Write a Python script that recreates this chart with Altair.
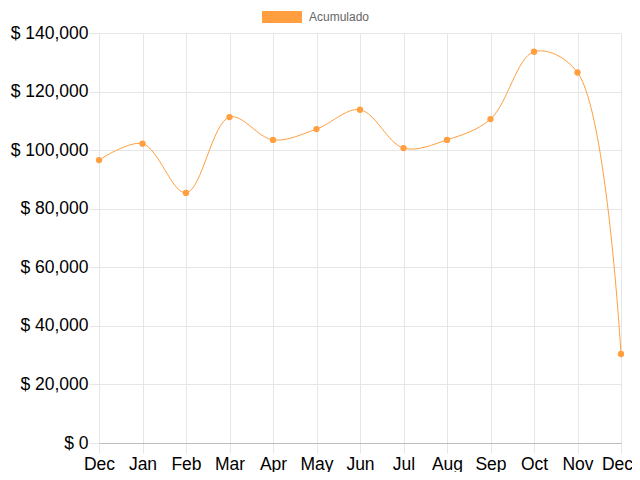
import altair as alt
import pandas as pd

months = ["Dec", "Jan", "Feb", "Mar", "Apr", "May", "Jun", "Jul", "Aug", "Sep", "Oct", "Nov", "Dec"]
values = [96600, 102200, 85400, 111300, 103500, 107200, 113800, 100700, 103500, 110600, 133600, 126500, 30400]
series = "Acumulado"

df = pd.DataFrame({"idx": list(range(len(months))), "month": months, "value": values, "series": series})

last = len(months) - 1
label_expr = "[" + ",".join("'" + m + "'" for m in months) + "][datum.value]"
color = "#FF9F40"
font = "Liberation Sans"

x = alt.X("idx:Q", scale=alt.Scale(domain=[0, last], nice=False, zero=False),
          axis=alt.Axis(title=None, values=list(range(len(months))), labelExpr=label_expr,
                        grid=True, gridColor="#e6e6e6", tickColor="#e6e6e6", tickSize=10,
                        labelPadding=2, labelFontSize=17.5, labelColor="#000", labelFont=font,
                        labelOverlap=False,
                        labelOffset=alt.ExprRef(expr=f"datum.value == {last} ? -4 : 0"),
                        domain=True, domainColor="#bdbdbd", labelFlush=False))
y = alt.Y("value:Q", scale=alt.Scale(domain=[0, 140000], nice=False),
          axis=alt.Axis(title=None, values=list(range(0, 140001, 20000)),
                        labelExpr="'$ ' + format(datum.value, ',')",
                        grid=True, gridColor="#e6e6e6", tickColor="#e6e6e6", tickSize=10,
                        labelPadding=1, labelFontSize=17.5, labelColor="#000", labelFont=font,
                        labelOverlap=False, domain=False))

base = alt.Chart(df)
line = base.mark_line(interpolate="catmull-rom", strokeWidth=1, color=color).encode(x=x, y=y)
points = base.mark_point(filled=True, size=40, opacity=1).encode(
    x=x, y=y,
    color=alt.Color("series:N", scale=alt.Scale(range=[color]),
                    legend=alt.Legend(title=None, orient="none", legendX=162, legendY=-37,
                                      symbolType="M-1,-0.3H1V0.3H-1Z", symbolSize=1600,
                                      symbolFillColor=color, symbolOpacity=1,
                                      labelFontSize=12, labelColor="#666", labelFont=font,
                                      labelOffset=6)),
)

chart = alt.layer(line, points).properties(
    width=522, height=410, autosize="none",
    padding={"left": 91, "top": 25, "right": 11, "bottom": 29},
).configure_view(stroke=None)

chart.save("out.html", embed_options={"renderer": "svg", "actions": False})
